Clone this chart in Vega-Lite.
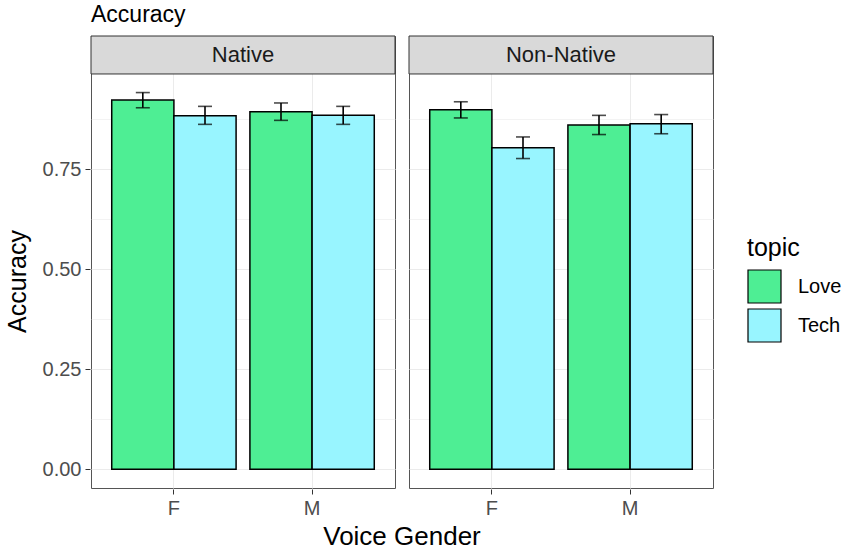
{
  "$schema": "https://vega.github.io/schema/vega-lite/v6.json",
  "padding": {"left": 5, "top": 4, "right": 5, "bottom": 2},
  "title": {"text": "Accuracy", "anchor": "start", "frame": "group", "fontSize": 23, "fontWeight": "normal", "color": "#000000", "offset": 8},
  "data": {
    "values": [
      {"panel": "Native", "gender": "F", "topic": "Love", "acc": 0.9235, "lo": 0.904, "hi": 0.942},
      {"panel": "Native", "gender": "F", "topic": "Tech", "acc": 0.884, "lo": 0.8625, "hi": 0.9075},
      {"panel": "Native", "gender": "M", "topic": "Love", "acc": 0.894, "lo": 0.8725, "hi": 0.916},
      {"panel": "Native", "gender": "M", "topic": "Tech", "acc": 0.885, "lo": 0.8625, "hi": 0.9075},
      {"panel": "Non-Native", "gender": "F", "topic": "Love", "acc": 0.899, "lo": 0.8785, "hi": 0.919},
      {"panel": "Non-Native", "gender": "F", "topic": "Tech", "acc": 0.804, "lo": 0.777, "hi": 0.831},
      {"panel": "Non-Native", "gender": "M", "topic": "Love", "acc": 0.861, "lo": 0.837, "hi": 0.885},
      {"panel": "Non-Native", "gender": "M", "topic": "Tech", "acc": 0.864, "lo": 0.839, "hi": 0.887}
    ]
  },
  "facet": {
    "column": {
      "field": "panel", "type": "nominal",
      "header": {
        "title": "Voice Gender", "titleOrient": "bottom", "titleFontSize": 26, "titleFontWeight": "normal",
        "titleColor": "#000000", "titlePadding": -4, "labels": false
      }
    }
  },
  "spacing": 12,
  "spec": {
    "width": 304,
    "height": 452,
    "layer": [
      {
        "mark": {"type": "bar", "stroke": "#000000", "strokeWidth": 1.5},
        "encoding": {
          "x": {
            "field": "gender", "type": "nominal", "title": null,
            "scale": {"paddingInner": 0.1, "paddingOuter": 0.15},
            "axis": {"labelAngle": 0, "bandPosition": 0.5, "grid": true}
          },
          "xOffset": {"field": "topic", "type": "nominal", "scale": {"paddingInner": 0, "paddingOuter": 0}},
          "y": {
            "field": "acc", "type": "quantitative", "title": "Accuracy",
            "scale": {"domain": [-0.0471, 1.0835], "nice": false, "zero": false},
            "axis": {
              "values": [0, 0.125, 0.25, 0.375, 0.5, 0.625, 0.75, 0.875],
              "format": ".2f",
              "labelExpr": "(datum.value * 8) % 2 == 1 ? '' : datum.label",
              "tickOpacity": {"condition": {"test": "(datum.value * 8) % 2 == 1", "value": 0}, "value": 1},
              "gridWidth": {"condition": {"test": "(datum.value * 8) % 2 == 1", "value": 0.6}, "value": 1.2},
              "titleY": 245, "titleFontSize": 25, "titlePadding": 12
            }
          },
          "color": {
            "field": "topic", "type": "nominal", "title": "topic",
            "scale": {"domain": ["Love", "Tech"], "range": ["#4EEE94", "#98F5FF"]}
          }
        }
      },
      {
        "mark": {"type": "rule", "color": "#000000", "strokeWidth": 1.6},
        "encoding": {
          "x": {"field": "gender", "type": "nominal"},
          "xOffset": {"field": "topic", "type": "nominal"},
          "y": {"field": "lo", "type": "quantitative"},
          "y2": {"field": "hi"}
        }
      },
      {
        "mark": {"type": "tick", "color": "#000000", "thickness": 1.6, "size": 14, "orient": "horizontal"},
        "encoding": {
          "x": {"field": "gender", "type": "nominal"},
          "xOffset": {"field": "topic", "type": "nominal"},
          "y": {"field": "lo", "type": "quantitative"}
        }
      },
      {
        "mark": {"type": "tick", "color": "#000000", "thickness": 1.6, "size": 14, "orient": "horizontal"},
        "encoding": {
          "x": {"field": "gender", "type": "nominal"},
          "xOffset": {"field": "topic", "type": "nominal"},
          "y": {"field": "hi", "type": "quantitative"}
        }
      },
      {
        "transform": [{"filter": "datum.gender == 'F' && datum.topic == 'Love'"}],
        "mark": {"type": "rect", "fill": "#D9D9D9", "stroke": "#333333", "strokeWidth": 1},
        "encoding": {
          "y": {"datum": 0.9885},
          "y2": {"datum": 1.0835}
        }
      },
      {
        "transform": [{"filter": "datum.gender == 'F' && datum.topic == 'Love'"}],
        "mark": {"type": "text", "fontSize": 22, "color": "#1A1A1A", "baseline": "middle"},
        "encoding": {
          "y": {"datum": 1.036},
          "text": {"field": "panel"}
        }
      }
    ]
  },
  "config": {
    "font": "Liberation Sans",
    "view": {"stroke": "#555555", "strokeWidth": 1},
    "axis": {
      "labelFontSize": 20, "labelColor": "#4D4D4D",
      "titleFontSize": 26, "titleFontWeight": "normal", "titleColor": "#000000",
      "tickColor": "#333333", "tickSize": 5, "labelPadding": 4,
      "domain": false, "gridColor": "#EBEBEB"
    },
    "legend": {
      "orient": "none", "legendX": 656, "legendY": 200,
      "titleFontSize": 25, "titleFontWeight": "normal", "titleColor": "#000000", "titlePadding": 8,
      "labelFontSize": 20, "labelColor": "#000000",
      "symbolType": "square", "symbolSize": 1089, "symbolStrokeColor": "#000000", "symbolStrokeWidth": 1.2,
      "symbolOpacity": 1, "rowPadding": 0, "labelOffset": 16
    }
  }
}
